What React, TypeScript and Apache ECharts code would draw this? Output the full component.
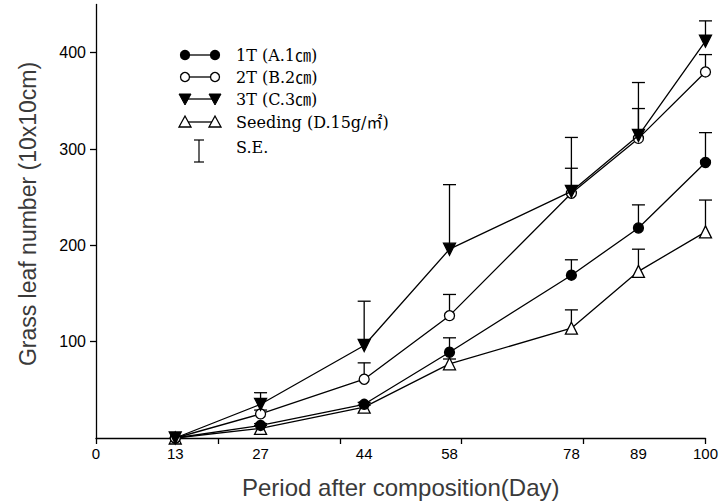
import React, { useEffect, useRef } from "react";
import * as echarts from "echarts";

const days = [13, 27, 44, 58, 78, 89, 100];
const t1 = [0, 13, 35, 89, 169, 218, 286];
const t1SE = [0, 2, 2, 15, 16, 24, 31];
const t2 = [0, 25, 61, 127, 254, 311, 380];
const t2SE = [0, 4, 17, 22, 26, 31, 18];
const t3 = [0, 35, 96, 196, 256, 314, 412];
const t3SE = [0, 12, 46, 67, 56, 55, 21];
const seed = [0, 10, 32, 77, 114, 173, 214];
const seedSE = [0, 3, 2, 5, 19, 23, 33];

const xTickValues = [0, 20, 40, 60, 80, 100];
const xLabelValues = [0, 13, 27, 44, 58, 78, 89, 100];
const yTickValues = [100, 200, 300, 400];

const legendNames = ["1T (A.1㎝)", "2T (B.2㎝)", "3T (C.3㎝)", "Seeding (D.15g/㎡)", "S.E."];

const LW = 1.3;
const SERIF = "'DejaVu Serif', 'Noto Sans CJK KR', serif";
const SANS = "'Liberation Sans', Arial, sans-serif";

function errSeries(vals: number[], se: number[]) {
  return {
    type: "custom",
    z: 1,
    silent: true,
    data: days.map((d, i) => [d, vals[i], se[i]]),
    renderItem: (params: any, api: any) => {
      const x = api.value(0);
      const y = api.value(1);
      const e = api.value(2);
      if (!e || e <= 0) return { type: "group", children: [] };
      const p0 = api.coord([x, y]);
      const p1 = api.coord([x, y + e]);
      const st = { stroke: "#000", lineWidth: LW };
      return {
        type: "group",
        children: [
          { type: "line", shape: { x1: p0[0], y1: p0[1], x2: p1[0], y2: p1[1] }, style: st },
          { type: "line", shape: { x1: p1[0] - 6.5, y1: p1[1], x2: p1[0] + 6.5, y2: p1[1] }, style: st },
        ],
      };
    },
  };
}

function lineSeries(name: string, vals: number[], symbol: string, fill: string, size: number, rotate = 0, z = 3) {
  return {
    name,
    type: "line",
    z,
    data: days.map((d, i) => [d, vals[i]]),
    symbol,
    symbolSize: size,
    symbolRotate: rotate,
    showAllSymbol: true,
    lineStyle: { color: "#000", width: LW },
    itemStyle: { color: fill, borderColor: "#000", borderWidth: LW },
  };
}

function legendRow(i: number, y: number, kind: string) {
  const x1 = 185;
  const x2 = 215;
  const st = { stroke: "#000", lineWidth: LW };
  const children: any[] = [
    { type: "line", shape: { x1, y1: y, x2, y2: y }, style: st },
  ];
  const marker = (cx: number) => {
    if (kind === "fc") return { type: "circle", shape: { cx, cy: y, r: 4.5 }, style: { fill: "#000", stroke: "#000", lineWidth: LW } };
    if (kind === "oc") return { type: "circle", shape: { cx, cy: y, r: 4.5 }, style: { fill: "#fff", stroke: "#000", lineWidth: LW } };
    if (kind === "td") return { type: "polygon", shape: { points: [[cx - 6, y - 5], [cx + 6, y - 5], [cx, y + 6]] }, style: { fill: "#000", stroke: "#000", lineWidth: 1 } };
    return { type: "polygon", shape: { points: [[cx - 6, y + 5], [cx + 6, y + 5], [cx, y - 6]] }, style: { fill: "#fff", stroke: "#000", lineWidth: LW } };
  };
  children.push(marker(x1), marker(x2));
  children.push({
    type: "text",
    x: 236,
    y,
    style: { text: legendNames[i], fill: "#000", font: "16px " + SERIF, verticalAlign: "middle", align: "left" },
  });
  return { type: "group", children };
}

export default function App() {
  const ref = useRef<HTMLDivElement>(null);
  useEffect(() => {
    if (!ref.current) return;
    const chart = echarts.init(ref.current, undefined, { renderer: "svg" });
    const seY = 148;
    chart.setOption({
      animation: false,
      backgroundColor: "#fff",
      grid: { left: 96, right: 15, top: 4.5, bottom: 63, containLabel: false },
      xAxis: {
        type: "value",
        min: 0,
        max: 100,
        name: "Period after composition(Day)",
        nameLocation: "middle",
        nameGap: 37,
        nameTextStyle: { fontFamily: SANS, fontSize: 24, color: "#3a3a3a" },
        splitLine: { show: false },
        axisLine: { lineStyle: { color: "#000", width: 1.3 } },
        axisTick: { show: true, length: 6, lineStyle: { color: "#000", width: 1.3 }, customValues: xTickValues },
        axisLabel: { color: "#000", fontSize: 15, fontFamily: SANS, margin: 8, customValues: xLabelValues },
      },
      yAxis: {
        type: "value",
        min: 0,
        max: 450,
        splitLine: { show: false },
        axisLine: { show: true, lineStyle: { color: "#000", width: 1.3 } },
        axisTick: { show: true, length: 6, lineStyle: { color: "#000", width: 1.3 }, customValues: yTickValues },
        axisLabel: { color: "#000", fontSize: 16, fontFamily: SANS, margin: 10, customValues: yTickValues },
      },
      graphic: [
        {
          type: "text",
          x: 28,
          y: 214,
          rotation: Math.PI / 2,
          style: { text: "Grass leaf number (10x10cm)", fill: "#3a3a3a", font: "23px " + SANS, align: "center", verticalAlign: "middle" },
        },
        legendRow(0, 55, "fc"),
        legendRow(1, 77, "oc"),
        legendRow(2, 99, "td"),
        legendRow(3, 122, "tu"),
        {
          type: "group",
          children: [
            { type: "line", shape: { x1: 199, y1: seY - 8, x2: 199, y2: seY + 14 }, style: { stroke: "#000", lineWidth: 1.2 } },
            { type: "line", shape: { x1: 194, y1: seY - 8, x2: 204, y2: seY - 8 }, style: { stroke: "#000", lineWidth: 1.2 } },
            { type: "line", shape: { x1: 194, y1: seY + 14, x2: 204, y2: seY + 14 }, style: { stroke: "#000", lineWidth: 1.2 } },
            { type: "text", x: 236, y: seY - 1, style: { text: legendNames[4], fill: "#000", font: "16px " + SERIF, verticalAlign: "middle", align: "left" } },
          ],
        },
      ],
      series: [
        errSeries(t1, t1SE),
        errSeries(t2, t2SE),
        errSeries(t3, t3SE),
        errSeries(seed, seedSE),
        lineSeries("Seeding", seed, "triangle", "#fff", 12, 0, 3),
        lineSeries("1T", t1, "circle", "#000", 10, 0, 4),
        lineSeries("2T", t2, "circle", "#fff", 10, 0, 5),
        lineSeries("3T", t3, "triangle", "#000", 12, 180, 6),
      ],
    });
    return () => chart.dispose();
  }, []);
  return <div ref={ref} style={{ position: "absolute", left: 0, top: 0, width: 721, height: 504 }} />;
}
